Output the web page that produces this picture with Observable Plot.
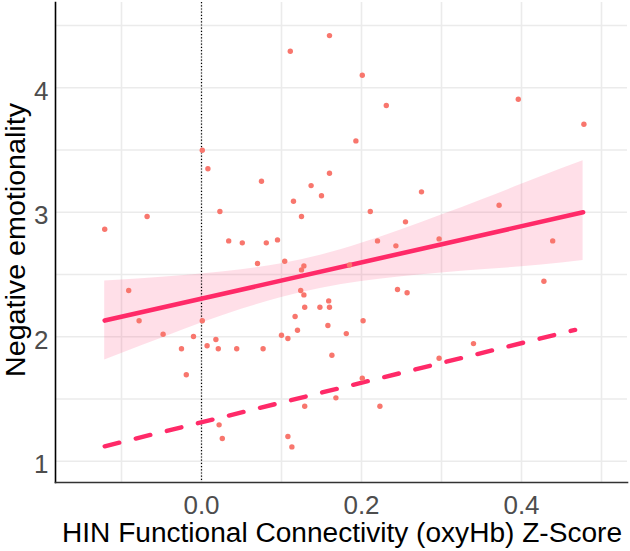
<!DOCTYPE html>
<html>
<head>
<meta charset="utf-8">
<script src="https://cdn.jsdelivr.net/npm/d3@7"></script>
<script src="https://cdn.jsdelivr.net/npm/@observablehq/plot@0.6"></script>
<style>
  html, body { margin: 0; padding: 0; background: #fff; }
</style>
</head>
<body>
<div id="chart"></div>
<script>
// ---- data ----
const pointX = [0.160, 0.111, 0.001, 0.201, 0.231, 0.193, 0.396, 0.478, 0.008, 0.075,
  0.160, 0.137, 0.150, 0.115, 0.023, 0.125, -0.068, -0.121, 0.034, 0.051,
  0.081, 0.095, 0.070, 0.104, 0.128, 0.125, -0.091, 0.124, 0.128, 0.129,
  0.148, 0.160, 0.159, 0.117, -0.078, 0.001, 0.158, 0.275, 0.211, 0.255,
  0.220, 0.243, 0.297, 0.372, 0.439, 0.428, 0.185, 0.245, 0.257, 0.202,
  -0.048, -0.010, -0.025, 0.007, 0.018, 0.021, 0.044, 0.077, -0.019, 0.100,
  0.108, 0.120, 0.163, 0.181, 0.168, 0.129, 0.022, 0.026, 0.108, 0.113,
  0.201, 0.223, 0.297, 0.340];
const pointY = [4.419, 4.293, 3.498, 4.100, 3.857, 3.573, 3.908, 3.707, 3.349, 3.249,
  3.313, 3.214, 3.132, 3.088, 3.006, 2.966, 2.966, 2.863, 2.770, 2.754,
  2.754, 2.778, 2.588, 2.606, 2.569, 2.537, 2.371, 2.371, 2.336, 2.237,
  2.237, 2.237, 2.288, 2.162, 2.128, 2.128, 2.090, 3.164, 3.006, 2.923,
  2.770, 2.730, 2.786, 3.056, 2.770, 2.446, 2.577, 2.379, 2.353, 2.128,
  2.020, 2.002, 1.903, 1.927, 1.978, 1.903, 1.903, 1.903, 1.694, 2.012,
  1.986, 2.052, 1.851, 2.025, 1.509, 1.442, 1.292, 1.182, 1.198, 1.115,
  1.667, 1.442, 1.827, 1.945];

// fitted line (solid) and second line (dashed)
const fitX = [-0.121, 0.477];
const fitY = [2.13, 3.00];
const dashX = [-0.121, 0.467];
const dashY = [1.12, 2.055];

// confidence band read at several x positions
const bandX    = [-0.121, -0.1, -0.05, 0, 0.05, 0.1, 0.15, 0.2, 0.25, 0.3, 0.35, 0.4, 0.45, 0.477];
const bandLow  = [1.813, 1.866, 1.988, 2.110, 2.220, 2.315, 2.390, 2.444, 2.482, 2.512, 2.538, 2.562, 2.592, 2.613];
const bandHigh = [2.447, 2.455, 2.477, 2.504, 2.538, 2.586, 2.656, 2.750, 2.859, 2.977, 3.099, 3.224, 3.350, 3.413];

const xTicks = [0, 0.2, 0.4];
const xMinor = [-0.1, 0.1, 0.3, 0.5];
const yTicks = [1, 2, 3, 4];
const yMinor = [1.5, 2.5, 3.5, 4.5];

const xTitle = "HIN Functional Connectivity (oxyHb) Z-Score";
const yTitle = "Negative emotionality";

// ---- tables built from the arrays ----
const points = pointX.map((x, i) => ({x, y: pointY[i]}));
const fit = fitX.map((x, i) => ({x, y: fitY[i]}));
const dashed = dashX.map((x, i) => ({x, y: dashY[i]}));
const band = bandX.map((x, i) => ({x, lo: bandLow[i], hi: bandHigh[i]}));

const lineColor = "#ff2a68";
const gridColor = "#ebebeb";

const svg = Plot.plot({
  width: 630,
  height: 551,
  marginLeft: 55,
  marginRight: 3,
  marginTop: 2,
  marginBottom: 69,
  style: {fontFamily: "'Liberation Sans', Arial, sans-serif", fontSize: "25px", background: "#fff"},
  x: {domain: [-0.1825, 0.5325]},
  y: {domain: [0.829, 4.685]},
  marks: [
    Plot.ruleX([...xMinor, ...xTicks], {stroke: gridColor, strokeWidth: 1.6}),
    Plot.ruleY([...yMinor, ...yTicks], {stroke: gridColor, strokeWidth: 1.6}),
    Plot.areaY(band, {x: "x", y1: "lo", y2: "hi", fill: lineColor, fillOpacity: 0.15, curve: "monotone-x"}),
    Plot.ruleX([0], {stroke: "#000", strokeWidth: 1.2, strokeDasharray: "1.2,2"}),
    Plot.line(fit, {x: "x", y: "y", stroke: lineColor, strokeWidth: 4.6}),
    Plot.line(dashed, {x: "x", y: "y", stroke: lineColor, strokeWidth: 4.4, strokeDasharray: "15,17"}),
    Plot.dot(points, {x: "x", y: "y", r: 2.7, fill: "#f8766d", stroke: "none"}),
    Plot.frame({anchor: "left", stroke: "#000", strokeWidth: 1.6}),
    Plot.frame({anchor: "bottom", stroke: "#333", strokeWidth: 1.6}),
    Plot.axisX(xTicks, {tickSize: 0, tickPadding: 13, tickFormat: d => d.toFixed(1), fontSize: 26, color: "#4d4d4d", label: null}),
    Plot.axisY(yTicks, {tickSize: 0, tickPadding: 7, dy: 3.7, tickFormat: d => String(d), fontSize: 26, color: "#4d4d4d", label: null})
  ]
});

const s = d3.select(svg);
s.append("text")
  .attr("x", 342).attr("y", 542)
  .attr("text-anchor", "middle")
  .attr("font-size", 27)
  .attr("fill", "#000")
  .attr("textLength", 560)
  .attr("lengthAdjust", "spacingAndGlyphs")
  .text(xTitle);
s.append("text")
  .attr("transform", "translate(25,240) rotate(-90)")
  .attr("text-anchor", "middle")
  .attr("font-size", 27)
  .attr("fill", "#000")
  .attr("textLength", 274)
  .attr("lengthAdjust", "spacingAndGlyphs")
  .text(yTitle);

document.getElementById("chart").appendChild(svg);
</script>
</body>
</html>
